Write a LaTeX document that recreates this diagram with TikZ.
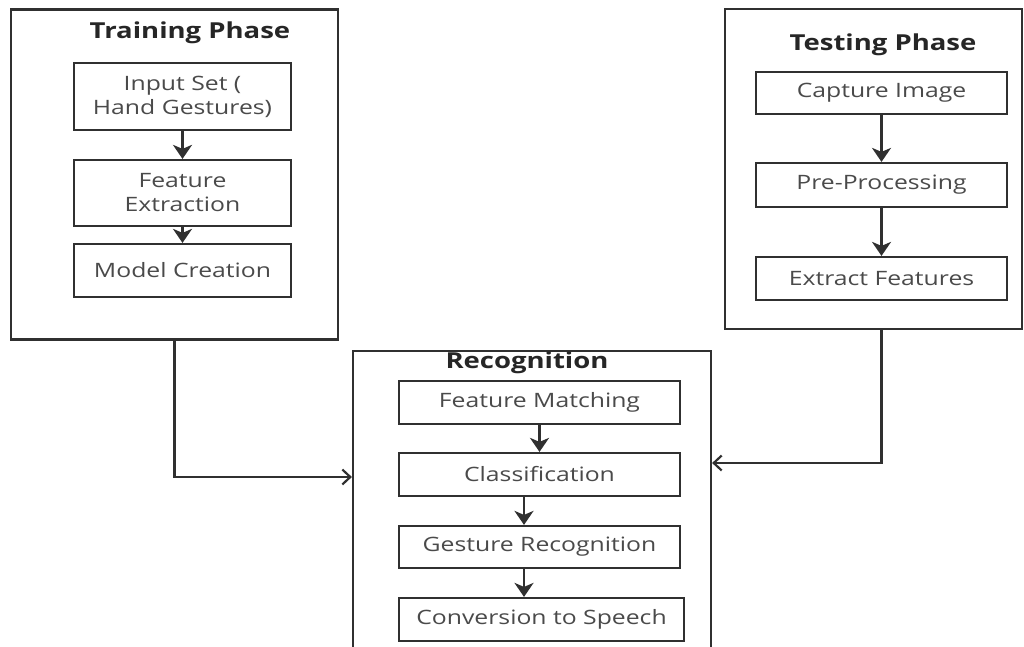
\documentclass[tikz,border=0pt]{standalone}
\usepackage{fontspec}
\setmainfont{Open Sans}[FakeStretch=1.25]
\usetikzlibrary{arrows.meta,calc}
\definecolor{ln}{HTML}{303030}
\definecolor{tx}{HTML}{4A4A4A}
\definecolor{tt}{HTML}{262626}
\tikzset{
  outer/.style={draw=ln, line width=2.2pt, minimum width=#1, inner sep=0pt},
  inbox/.style={draw=ln, line width=2.2pt, inner sep=0pt, text=tx, align=center,
    font=\fontsize{19.8}{24}\selectfont},
  ttl/.style={text=tt, font=\fontsize{22}{26}\selectfont\bfseries, inner sep=0pt},
  flow/.style={draw=ln, line width=2.4pt, -{Stealth[width=19pt,length=14pt,inset=4pt]}},
  link/.style={draw=ln, line width=2.2pt, -{Straight Barb[width=15pt,length=8pt]}}
}
\begin{document}
\begin{tikzpicture}[x=1pt,y=-1pt]
\useasboundingbox (0,0) rectangle (1024,647);
\fill[white] (0,0) rectangle (1024,647);
% outer boxes
\node[outer=327pt, minimum height=330pt] (train) at (174.5,174.5) {};
\node[outer=297pt, minimum height=320pt] (test) at (873.5,169) {};
\node[outer=358pt, minimum height=309pt] (recog) at (532,505.5) {};
% titles
\node[ttl] (ttrain) at (190,33) {Training Phase};
\node[ttl] (ttest) at (883,45) {Testing Phase};
\node[ttl] (trecog) at (527,363) {Recognition};
% training inner
\node[inbox, minimum width=217pt, minimum height=67pt] (inp) at (182.5,96.5) {Input Set (\\Hand Gestures)};
\node[inbox, minimum width=217pt, minimum height=66pt] (fex) at (182.5,193) {Feature\\Extraction};
\node[inbox, minimum width=217pt, minimum height=53pt] (mod) at (182.5,270.5) {Model Creation};
% testing inner
\node[inbox, minimum width=251pt, minimum height=42pt] (cap) at (881.5,93) {Capture Image};
\node[inbox, minimum width=251pt, minimum height=44pt] (pre) at (881.5,185) {Pre-Processing};
\node[inbox, minimum width=251pt, minimum height=43pt] (ext) at (881.5,278.5) {Extract Features};
% recognition inner
\node[inbox, minimum width=281pt, minimum height=43pt] (fm) at (539.5,402.5) {Feature Matching};
\node[inbox, minimum width=281pt, minimum height=43pt] (cls) at (539.5,474.5) {Classification};
\node[inbox, minimum width=281pt, minimum height=42pt] (gr) at (539.5,547) {Gesture Recognition};
\node[inbox, minimum width=285pt, minimum height=43pt] (cs) at (541.5,619.5) {Conversion to Speech};
% helper coordinates
\coordinate (ax) at (524,0);
\coordinate (ly) at (0,477);
\coordinate (ry) at (0,463);
% inner arrows
\draw[flow] (inp) -- (fex);
\draw[flow] (fex) -- (mod);
\draw[flow] (cap) -- (pre);
\draw[flow] (pre) -- (ext);
\draw[flow] (fm) -- (cls);
\draw[flow] (cls.south -| ax) -- (gr.north -| ax);
\draw[flow] (gr.south -| ax) -- (cs.north -| ax);
% links
\draw[link] (train.south) |- (recog.west |- ly);
\draw[link] (ext.south |- test.south) |- (recog.east |- ry);
\end{tikzpicture}
\end{document}
